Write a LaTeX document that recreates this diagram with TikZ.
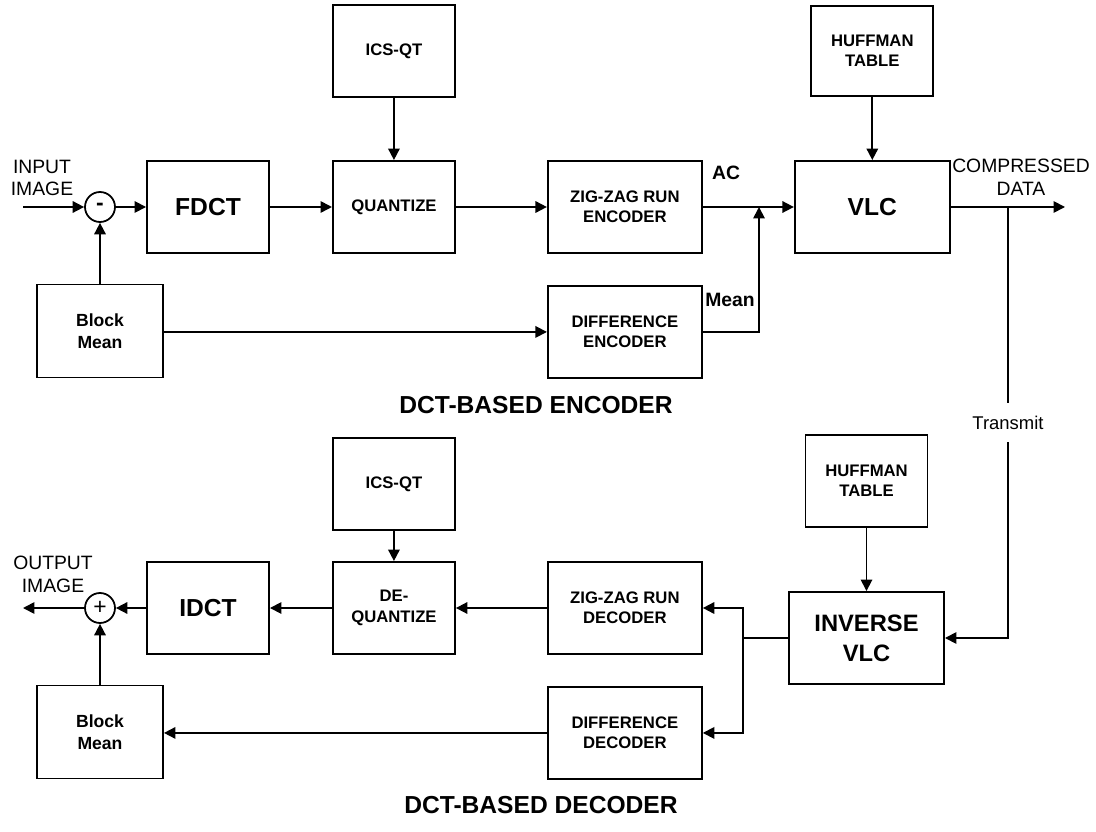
\documentclass[tikz,border=0pt]{standalone}
\usepackage{fontspec}
\setmainfont{Liberation Sans}
\usepackage{tikz}
\usetikzlibrary{positioning, arrows.meta}

\begin{document}
\begin{tikzpicture}[>={Triangle[length=6.5pt, width=6.5pt]}, line width=1pt,
    blk/.style={draw, rectangle, line width=1.1pt, align=center, inner sep=0pt, font=\fontsize{9.5}{11.5}\selectfont\bfseries, minimum width=2.44cm, minimum height=1.84cm},
    bigblk/.style={blk, font=\fontsize{14}{16}\selectfont\bfseries},
    sumnode/.style={draw, circle, line width=1pt, inner sep=0pt, minimum size=0.6cm, font=\fontsize{13}{13}\selectfont},
    lbl/.style={align=center, inner sep=0pt, font=\fontsize{11}{13}\selectfont},
    heading/.style={inner sep=0pt, font=\fontsize{14}{16}\selectfont\bfseries}]
    \useasboundingbox (0,0) rectangle (21.92,-16.64);

    % encoder
    \node [sumnode] (minus) at (2,-4.14) {\textbf{-}};
    \node [bigblk] (fdct) at (4.16,-4.14) {FDCT};
    \node [blk, right=1.24cm of fdct] (quant) {QUANTIZE};
    \node [blk, above=1.24cm of quant] (icsE) {ICS-QT};
    \node [blk, right=1.82cm of quant, minimum width=3.08cm] (zigE) {ZIG-ZAG RUN\\ENCODER};
    \node [bigblk, right=1.82cm of zigE, minimum width=3.1cm] (vlc) {VLC};
    \node [blk, above=1.26cm of vlc, minimum height=1.8cm] (huffE) {HUFFMAN\\TABLE};
    \node [blk, below=0.62cm of zigE, minimum width=3.08cm] (diffE) {DIFFERENCE\\ENCODER};
    \node [blk, minimum width=2.52cm, minimum height=1.86cm, font=\fontsize{10}{12.5}\selectfont\bfseries] (bmE) at (2,-6.62) {Block\\Mean};

    \coordinate (inE) at (0.46,-4.14);
    \coordinate (jE) at (15.18,-4.14);
    \coordinate (txE) at (20.16,-4.14);
    \coordinate (outE) at (21.3,-4.14);

    \node [lbl] (inLbl) at (0.84,-3.56) {INPUT\\IMAGE};
    \node [lbl] (cdLbl) at (20.42,-3.54) {COMPRESSED\\DATA};
    \node [lbl, font=\fontsize{11}{13}\selectfont\bfseries] (acLbl) at (14.52,-3.46) {AC};
    \node [lbl, font=\fontsize{11}{13}\selectfont\bfseries] (meanLbl) at (14.6,-6.0) {Mean};
    \node [heading] (encTitle) at (10.72,-8.1) {DCT-BASED ENCODER};

    \draw [->] (inE) -- (minus);
    \draw [->] (minus) -- (fdct);
    \draw [->] (fdct) -- (quant);
    \draw [->] (icsE) -- (quant);
    \draw [->] (quant) -- (zigE);
    \draw [->] (zigE) -- (vlc);
    \draw [->] (huffE) -- (vlc);
    \draw [->] (bmE) -- (minus);
    \draw [->] (bmE.east |- diffE.west) -- (diffE.west);
    \draw [->] (diffE) -| (jE);
    \draw [->] (vlc) -- (outE);

    % decoder
    \node [sumnode] (plus) at (2,-12.16) {+};
    \node [bigblk] (idct) at (4.16,-12.16) {IDCT};
    \node [blk, right=1.24cm of idct] (dequant) {DE-\\QUANTIZE};
    \node [blk, above=0.6cm of dequant] (icsD) {ICS-QT};
    \node [blk, right=1.82cm of dequant, minimum width=3.08cm] (zigD) {ZIG-ZAG RUN\\DECODER};
    \node [blk, below=0.62cm of zigD, minimum width=3.08cm] (diffD) {DIFFERENCE\\DECODER};
    \node [bigblk, minimum width=3.1cm, font=\fontsize{13.5}{17}\selectfont\bfseries] (invvlc) at (17.33,-12.76) {INVERSE\\VLC};
    \node [blk, above=1.26cm of invvlc] (huffD) {HUFFMAN\\TABLE};
    \node [blk, minimum width=2.52cm, minimum height=1.86cm, font=\fontsize{10}{12.5}\selectfont\bfseries] (bmD) at (2,-14.64) {Block\\Mean};

    \coordinate (jD) at (14.86,-12.76);
    \coordinate (outD) at (0.46,-12.16);

    \node [lbl] (outLbl) at (1.06,-11.48) {OUTPUT\\IMAGE};
    \node [heading] (decTitle) at (10.82,-16.1) {DCT-BASED DECODER};

    \draw [->] (txE) |- node [pos=0.25, fill=white, inner xsep=1pt, inner ysep=7pt, font=\fontsize{10.5}{12}\selectfont] (txLbl) {Transmit} (invvlc);
    \draw [->] (huffD) -- (invvlc);
    \draw (invvlc) -- (jD);
    \draw [->] (jD) |- (zigD);
    \draw [->] (jD) |- (diffD);
    \draw [->] (zigD) -- (dequant);
    \draw [->] (icsD) -- (dequant);
    \draw [->] (dequant) -- (idct);
    \draw [->] (idct) -- (plus);
    \draw [->] (plus) -- (outD);
    \draw [->] (bmD) -- (plus);
    \draw [->] (diffD.west) -- (bmD.east |- diffD.west);
\end{tikzpicture}
\end{document}
